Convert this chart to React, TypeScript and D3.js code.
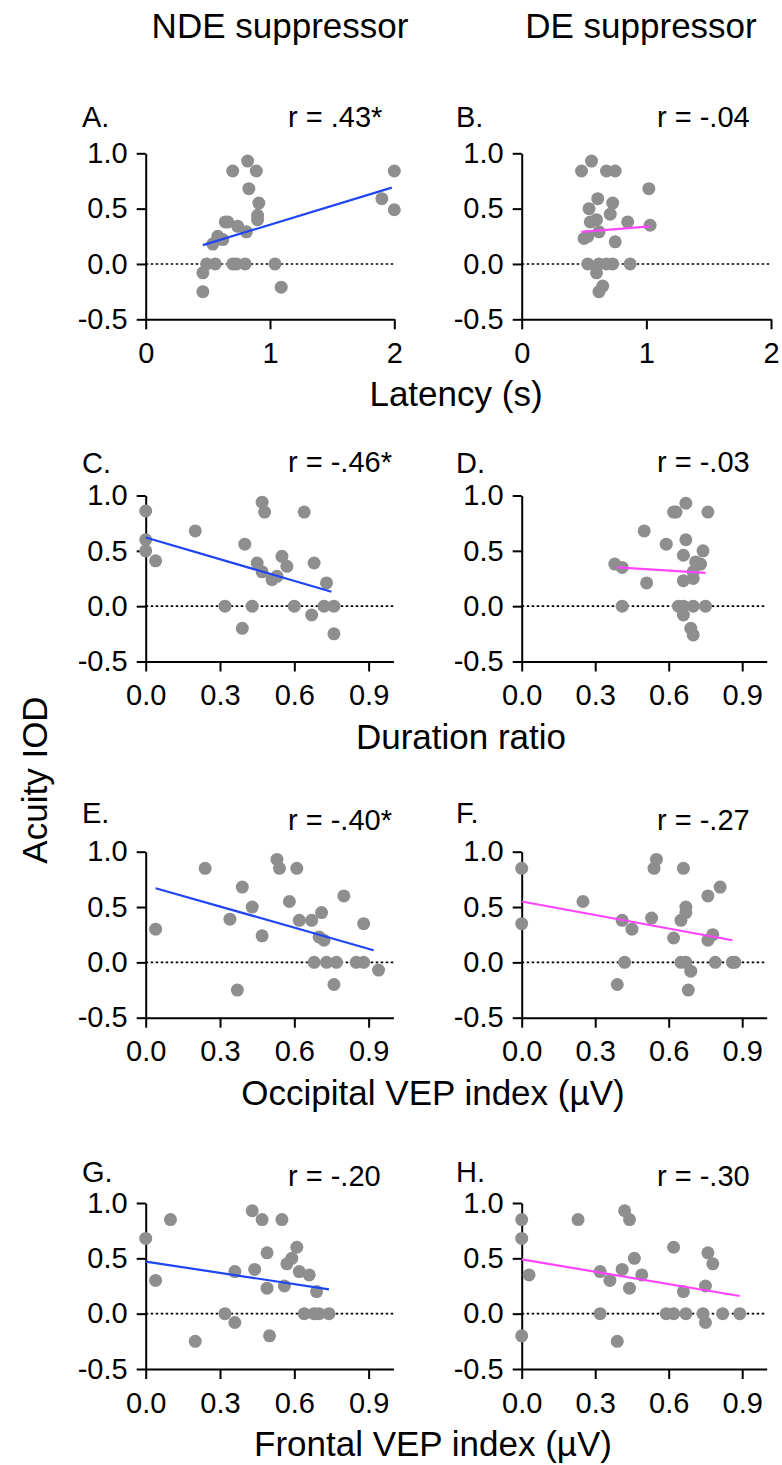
import * as d3 from 'd3';
import React, { useRef, useEffect } from 'react';

// values, [x, acuity IOD]
const latencyNde: [number, number][] = [
  [0.46, -0.08], [0.46, -0.25], [0.49, 0], [0.56, 0], [0.54, 0.18], [0.58, 0.25], [0.62, 0.22],
  [0.64, 0.38], [0.66, 0.38], [0.7, 0.84], [0.7, 0], [0.74, 0.34], [0.73, 0], [0.8, 0], [0.81, 0.29],
  [0.82, 0.93], [0.89, 0.84], [0.83, 0.68], [0.91, 0.55], [0.9, 0.44], [0.9, 0.4], [1.04, 0],
  [1.09, -0.21], [1.9, 0.59], [2.0, 0.84], [2.0, 0.49],
];
const latencyDe: [number, number][] = [
  [0.48, 0.84], [0.56, 0.93], [0.68, 0.84], [0.75, 0.84], [1.02, 0.68], [0.61, 0.59], [0.54, 0.5],
  [0.73, 0.55], [0.71, 0.45], [0.55, 0.38], [0.6, 0.4], [0.62, 0.29], [0.85, 0.38], [1.03, 0.35],
  [0.5, 0.23], [0.53, 0.25], [0.75, 0.2], [0.53, 0], [0.62, 0], [0.68, 0], [0.73, 0], [0.87, 0],
  [0.6, -0.08], [0.65, -0.2], [0.62, -0.25],
];
const durationNde: [number, number][] = [
  [0, 0.86], [0, 0.6], [0, 0.5], [0.04, 0.41], [0.2, 0.68], [0.4, 0.56], [0.47, 0.94], [0.48, 0.85],
  [0.64, 0.85], [0.45, 0.39], [0.47, 0.31], [0.51, 0.24], [0.53, 0.27], [0.55, 0.45], [0.57, 0.36],
  [0.68, 0.39], [0.73, 0.21], [0.32, 0], [0.43, 0], [0.6, 0], [0.72, 0], [0.76, 0], [0.67, -0.08],
  [0.39, -0.2], [0.76, -0.25],
];
const durationDe: [number, number][] = [
  [0.38, 0.38], [0.41, 0.35], [0.41, 0], [0.5, 0.68], [0.51, 0.21], [0.59, 0.56], [0.62, 0.85],
  [0.63, 0.85], [0.67, 0.93], [0.76, 0.85], [0.67, 0.6], [0.74, 0.5], [0.66, 0.46], [0.71, 0.4],
  [0.73, 0.38], [0.7, 0.31], [0.66, 0.23], [0.7, 0.25], [0.64, 0], [0.66, 0], [0.7, 0], [0.75, 0],
  [0.66, -0.08], [0.69, -0.2], [0.7, -0.26],
];
const occipitalNde: [number, number][] = [
  [0.04, 0.3], [0.24, 0.85], [0.39, 0.68], [0.43, 0.5], [0.34, 0.39], [0.47, 0.24], [0.53, 0.93],
  [0.54, 0.85], [0.61, 0.85], [0.58, 0.55], [0.62, 0.38], [0.67, 0.38], [0.71, 0.45], [0.8, 0.6],
  [0.7, 0.23], [0.72, 0.2], [0.88, 0.35], [0.68, 0], [0.73, 0], [0.77, 0], [0.85, 0], [0.88, 0],
  [0.94, -0.07], [0.76, -0.2], [0.37, -0.25],
];
const occipitalDe: [number, number][] = [
  [0, 0.85], [0, 0.35], [0.25, 0.55], [0.41, 0.38], [0.45, 0.3], [0.53, 0.4], [0.55, 0.93],
  [0.54, 0.85], [0.66, 0.85], [0.62, 0.22], [0.65, 0.38], [0.67, 0.5], [0.67, 0.45], [0.76, 0.6],
  [0.81, 0.68], [0.78, 0.25], [0.76, 0.2], [0.42, 0], [0.65, 0], [0.67, 0], [0.69, -0.08], [0.79, 0],
  [0.86, 0], [0.87, 0], [0.39, -0.2], [0.68, -0.25],
];
const frontalNde: [number, number][] = [
  [0, 0.68], [0.04, 0.3], [0.1, 0.85], [0.2, -0.25], [0.32, 0], [0.36, 0.38], [0.36, -0.08],
  [0.43, 0.93], [0.44, 0.4], [0.47, 0.85], [0.49, 0.55], [0.49, 0.23], [0.5, -0.2], [0.55, 0.85],
  [0.56, 0.25], [0.57, 0.45], [0.59, 0.5], [0.61, 0.6], [0.62, 0.38], [0.64, 0], [0.66, 0.35],
  [0.68, 0], [0.69, 0.2], [0.7, 0], [0.74, 0],
];
const frontalDe: [number, number][] = [
  [0, 0.85], [0, 0.68], [0, -0.2], [0.03, 0.35], [0.23, 0.85], [0.32, 0.38], [0.32, 0], [0.36, 0.3],
  [0.39, -0.25], [0.42, 0.93], [0.44, 0.85], [0.41, 0.4], [0.44, 0.23], [0.46, 0.5], [0.49, 0.35],
  [0.59, 0], [0.62, 0], [0.62, 0.6], [0.66, 0.2], [0.67, 0], [0.74, 0], [0.75, -0.08], [0.76, 0.55],
  [0.78, 0.45], [0.75, 0.25], [0.82, 0], [0.89, 0],
];

// regression line end points
const fits: [number, number][][] = [
  [[0.46, 0.17], [1.98, 0.69]],
  [[0.48, 0.29], [1.03, 0.34]],
  [[0, 0.62], [0.75, 0.13]],
  [[0.39, 0.35], [0.75, 0.3]],
  [[0.04, 0.67], [0.92, 0.11]],
  [[0, 0.55], [0.86, 0.2]],
  [[0, 0.47], [0.74, 0.22]],
  [[0, 0.49], [0.89, 0.16]],
];

const letters = ['A.', 'B.', 'C.', 'D.', 'E.', 'F.', 'G.', 'H.'];
const rLabels = ['r = .43*', 'r = -.04', 'r = -.46*', 'r = -.03', 'r = -.40*', 'r = -.27', 'r = -.20', 'r = -.30'];
const columnTitles = ['NDE suppressor', 'DE suppressor'];
const xTitles = ['Latency (s)', 'Duration ratio', 'Occipital VEP index (\u00b5V)', 'Frontal VEP index (\u00b5V)'];
const yTitle = 'Acuity IOD';
const yTicks = [-0.5, 0, 0.5, 1];
const latencyTicks = [0, 1, 2];
const ratioTicks = [0, 0.3, 0.6, 0.9];

const panelData = [latencyNde, latencyDe, durationNde, durationDe, occipitalNde, occipitalDe, frontalNde, frontalDe];

const FONT = '"Liberation Sans", Arial, Helvetica, sans-serif';
const rowTop = [153.3, 495.5, 851.7, 1203];
const letterDy = [-26, -23, -29, -21];
const rDy = [-26, -24, -22, -17];
const titleX = [456, 461, 433, 433];
const plotH = 166;

function App() {
  const svgRef = useRef<SVGSVGElement>(null);

  useEffect(() => {
    const svg = d3.select(svgRef.current);
    svg.selectAll('*').remove();

    const cols = [
      { x0: 145.7, w1: 248.6, w: 247.7, letterX: 82, rX: 288, color: '#1f45f5' },
      { x0: 521.7, w1: 249.3, w: 245, letterX: 456, rX: 657, color: '#ff45ff' },
    ];

    [280, 641].forEach((cx, i) => {
      svg.append('text').attr('x', cx).attr('y', 38).attr('text-anchor', 'middle')
        .attr('font-size', 35).text(columnTitles[i]);
    });

    svg.append('text').attr('transform', 'translate(47,780) rotate(-90)')
      .attr('text-anchor', 'middle').attr('font-size', 35).text(yTitle);

    panelData.forEach((pts, i) => {
      const row = Math.floor(i / 2);
      const c = cols[i % 2];
      const top = rowTop[row];
      const first = row === 0;

      const x = d3.scaleLinear()
        .domain(first ? [0, 2] : [0, 1])
        .range([c.x0, c.x0 + (first ? c.w1 : c.w)]);
      const y = d3.scaleLinear().domain([-0.5, 1]).range([top + plotH, top]);

      const g = svg.append('g');

      // dotted zero line
      g.append('line')
        .attr('x1', x(0)).attr('x2', x.range()[1])
        .attr('y1', y(0)).attr('y2', y(0))
        .attr('stroke', '#000').attr('stroke-width', 1.6)
        .attr('stroke-dasharray', '2.5,2.5');

      const ya = g.append('g').attr('transform', `translate(${c.x0},0)`)
        .call(d3.axisLeft(y).tickValues(yTicks)
          .tickFormat((d) => (+d).toFixed(1))
          .tickSize(9).tickSizeOuter(0).tickPadding(9));
      const xa = g.append('g').attr('transform', `translate(0,${y(-0.5)})`)
        .call(d3.axisBottom(x).tickValues(first ? latencyTicks : ratioTicks)
          .tickFormat((d) => (first ? String(d) : (+d).toFixed(1)))
          .tickSize(10).tickSizeOuter(0).tickPadding(13));

      [ya, xa].forEach((a) => {
        a.attr('font-family', FONT).attr('font-size', 29);
        a.selectAll('path, line').attr('stroke', '#000').attr('stroke-width', 2);
        a.selectAll('text').attr('fill', '#000');
      });

      g.selectAll('circle').data(pts).join('circle')
        .attr('cx', (d) => x(d[0])).attr('cy', (d) => y(d[1]))
        .attr('r', 6.5).attr('fill', '#8e8e8e');

      g.append('path').datum(fits[i])
        .attr('fill', 'none').attr('stroke', c.color).attr('stroke-width', 2.2)
        .attr('d', d3.line().x((d) => x(d[0])).y((d) => y(d[1])));

      g.append('text').attr('x', c.letterX).attr('y', top + letterDy[row])
        .attr('font-size', 29).text(letters[i]);
      g.append('text').attr('x', c.rX).attr('y', top + rDy[row])
        .attr('font-size', 29).text(rLabels[i]);

      if (i % 2 === 0) {
        svg.append('text').attr('x', titleX[row]).attr('y', y(-0.5) + 87)
          .attr('text-anchor', 'middle').attr('font-size', 35).text(xTitles[row]);
      }
    });
  }, []);

  return (
    <svg
      ref={svgRef}
      width={782}
      height={1465}
      fontFamily={FONT}
      style={{ position: 'absolute', left: 0, top: 0, background: '#fff' }}
    ></svg>
  );
}

export default App;
